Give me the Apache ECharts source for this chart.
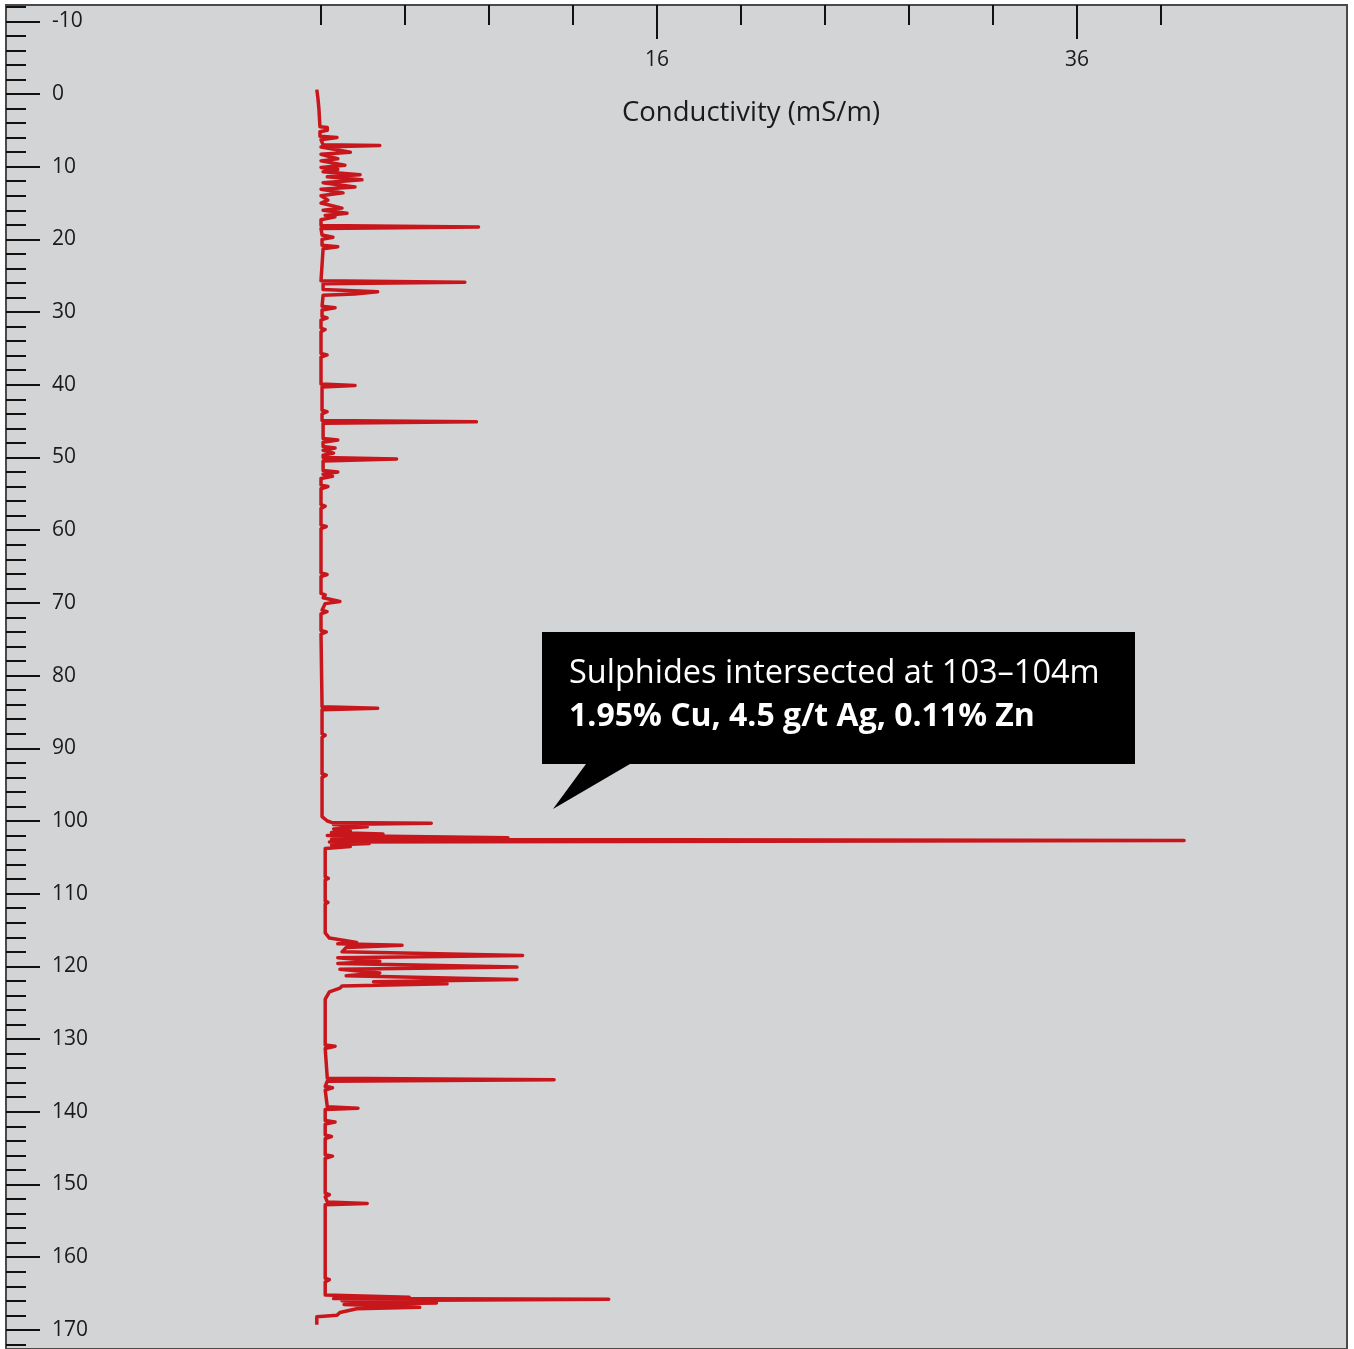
<!DOCTYPE html>
<html><head><meta charset="utf-8">
<script src="https://cdn.jsdelivr.net/npm/echarts@6/dist/echarts.min.js"></script>
<style>html,body{margin:0;padding:0;background:#fff}#c{width:1354px;height:1349px}</style>
</head><body><div id="c"></div>
<script>
// Depth (m) and conductivity (mS/m) along the drill hole
const depths = [
 -0.6,0.5,2,4.5,4.6,5.0,5.2,5.8,6.0,6.3,7.0,7.1,7.3,8.0,8.3,8.9,9.2,9.8,10.1,10.4,10.7,11.1,11.4,11.8,12.2,12.8,13.1,13.6,14.0,14.6,15.0,15.7,16.0,16.4,16.7,16.9,17.3,18.1,18.3,18.5,
 19.4,19.7,20.0,20.8,21.0,21.3,25.7,25.9,26.1,26.9,27.2,27.5,27.7,29.2,29.4,29.7,30.6,30.8,31.1,32.2,32.4,32.7,35.7,35.9,36.2,39.9,40.1,40.3,43.5,43.7,44.0,44.9,45.1,45.3,
 47.4,47.6,47.9,48.5,48.7,49.0,49.2,49.4,49.7,50.0,50.2,50.5,51.8,52.0,52.3,52.6,52.9,53.8,54.0,54.3,56.5,56.7,57.0,59.3,59.5,59.8,65.9,66.1,66.4,68.7,68.9,69.3,69.8,70.1,
 71.0,71.2,71.5,73.8,74.0,74.3,84.3,84.5,84.7,88.0,88.2,88.5,93.5,93.7,94.0,99.4,100.0,100.2,100.3,100.5,100.8,101.1,101.4,101.6,101.8,102.0,102.3,102.5,102.7,102.9,103.1,103.3,103.5,103.8,104.0,
 107.7,107.9,108.1,111.0,111.2,111.4,115.4,116.1,116.7,116.9,117.1,117.4,118.0,118.5,118.8,119.3,119.6,120.1,120.4,120.9,121.3,121.8,122.1,122.4,122.7,123.0,123.5,124.5,
 130.8,131.0,131.3,135.4,135.6,135.8,136.5,136.7,137.0,139.3,139.5,139.7,141.2,141.4,141.7,143.2,143.4,143.7,145.9,146.1,146.4,151.2,151.4,151.7,152.4,152.6,152.8,162.9,163.1,163.4,
 165.2,165.5,165.7,165.8,166.0,166.3,166.5,166.9,167.1,167.6,168.0,168.2,169.3
];
const conductivity = [
 -0.2,-0.15,-0.1,-0.05,0.3,0.3,-0.05,-0.05,0.76,0,0.1,2.8,0,1.4,0,0.8,0,1.14,0,0.8,0.1,1.86,0.3,1.95,0.1,1.62,0,1.05,0,0.33,0,1.0,0.1,1.24,0.2,0.67,0,0,7.5,0,
 0.05,0.57,0.05,0.05,0.8,0.1,0.0,6.85,0.1,0.1,2.7,1.6,0.1,0.05,0.67,0.05,0.05,0.29,0.0,0.0,0.2,0.0,0.0,0.29,0.0,0.0,1.62,0.05,0.05,0.29,0.05,0.05,7.4,0.1,
 0.1,0.8,0.1,0.1,0.67,0.1,0.1,0.6,0.1,0.1,3.6,0.1,0.1,0.8,0.1,0.55,0.0,0.0,0.33,0,0,0.2,0,0,0.25,0,0,0.29,0,0,0.2,0.1,0.9,0.2,
 0.05,0.29,0,0,0.25,0,0.05,2.7,0.05,0.05,0.2,0.05,0.05,0.25,0.05,0.05,0.3,0.5,5.25,0.6,2.2,0.6,1.4,0.5,2.95,0.3,8.9,0.5,41.1,0.4,2.3,0.5,1.4,0.2,0.15,
 0.2,0.35,0.2,0.2,0.33,0.2,0.2,0.4,1.7,0.8,3.86,1.2,1.0,9.6,0.8,2.8,0.8,9.33,0.9,2.8,1.2,9.33,2.5,6.0,1.0,0.9,0.4,0.2,
 0.2,0.67,0.2,0.3,11.1,0.3,0.2,0.55,0.2,0.3,1.76,0.2,0.2,0.67,0.2,0.2,0.5,0.2,0.2,0.55,0.2,0.2,0.4,0.2,0.3,2.2,0.2,0.2,0.4,0.2,
 0.2,4.2,0.6,13.7,1.0,5.5,1.1,4.7,1.7,0.9,0.76,-0.2,-0.2
];
const depthMajorTicks = [-10,0,10,20,30,40,50,60,70,80,90,100,110,120,130,140,150,160,170];
const depthMinorTicks = [];
for (let d = -12; d <= 172; d += 2) { if (d % 10 !== 0) depthMinorTicks.push(d); }
const condMinorTicks = [0,4,8,12,20,24,28,32,40];
const condMajorTicks = [16,36];
const axisTitle = 'Conductivity (mS/m)';
const noteLine1 = 'Sulphides intersected at 103\u2013104m';
const noteLine2 = '1.95% Cu, 4.5 g/t Ag, 0.11% Zn';

const FONT = '"Open Sans", sans-serif';
const xMin = -15, xMax = 48.857, yMin = -12.24, yMax = 172.63;
const seriesData = depths.map((d, i) => [conductivity[i], d]);
const hiddenLine = { show: false, onZero: false };

const chart = echarts.init(document.getElementById('c'));
chart.setOption({
  animation: false,
  backgroundColor: '#ffffff',
  textStyle: { fontFamily: FONT },
  grid: { left: 6, top: 5, right: 7, bottom: 0, show: true, backgroundColor: '#d3d4d6', borderColor: '#4a4a4a', borderWidth: 2 },
  xAxis: [
    { type: 'value', position: 'top', min: xMin, max: xMax, axisLine: hiddenLine, splitLine: { show: false },
      axisTick: { show: true, inside: true, length: 20, customValues: condMinorTicks, lineStyle: { color: '#111', width: 2 } },
      axisLabel: { show: false } },
    { type: 'value', position: 'top', min: xMin, max: xMax, axisLine: hiddenLine, splitLine: { show: false },
      axisTick: { show: true, inside: true, length: 34, customValues: condMajorTicks, lineStyle: { color: '#111', width: 2 } },
      axisLabel: { show: true, inside: true, margin: 45, customValues: condMajorTicks, fontSize: 21, color: '#1a1a1a', fontFamily: FONT } }
  ],
  yAxis: [
    { type: 'value', inverse: true, position: 'left', min: yMin, max: yMax, axisLine: hiddenLine, splitLine: { show: false },
      axisTick: { show: true, inside: true, length: 34, customValues: depthMajorTicks, lineStyle: { color: '#111', width: 2 } },
      axisLabel: { show: true, inside: true, margin: 46, customValues: depthMajorTicks, fontSize: 21, color: '#1a1a1a', fontFamily: FONT, padding: [4, 0, 0, 0] } },
    { type: 'value', inverse: true, position: 'left', min: yMin, max: yMax, axisLine: hiddenLine, splitLine: { show: false },
      axisTick: { show: true, inside: true, length: 20, customValues: depthMinorTicks, lineStyle: { color: '#111', width: 2 } },
      axisLabel: { show: false } }
  ],
  series: [{
    type: 'line', xAxisIndex: 0, yAxisIndex: 0, data: seriesData, showSymbol: false, symbol: 'none',
    lineStyle: { color: '#c8161d', width: 3.5, join: 'round' }, clip: true
  }],
  graphic: [
    { type: 'text', x: 751, y: 113, style: { text: axisTitle, fontSize: 27.5, fill: '#1a1a1a', fontFamily: FONT, align: 'center', verticalAlign: 'middle' } },
    { type: 'polygon', shape: { points: [[542,632],[1135,632],[1135,764],[630,764],[553,809],[586,764],[542,764]] }, style: { fill: '#000' } },
    { type: 'text', x: 569, y: 674, style: { text: noteLine1, fontSize: 32.5, fill: '#fff', fontFamily: FONT, verticalAlign: 'middle' } },
    { type: 'text', x: 569, y: 717, style: { text: noteLine2, fontSize: 32, fontWeight: 'bold', fill: '#fff', fontFamily: FONT, verticalAlign: 'middle' } }
  ]
});
</script></body></html>
